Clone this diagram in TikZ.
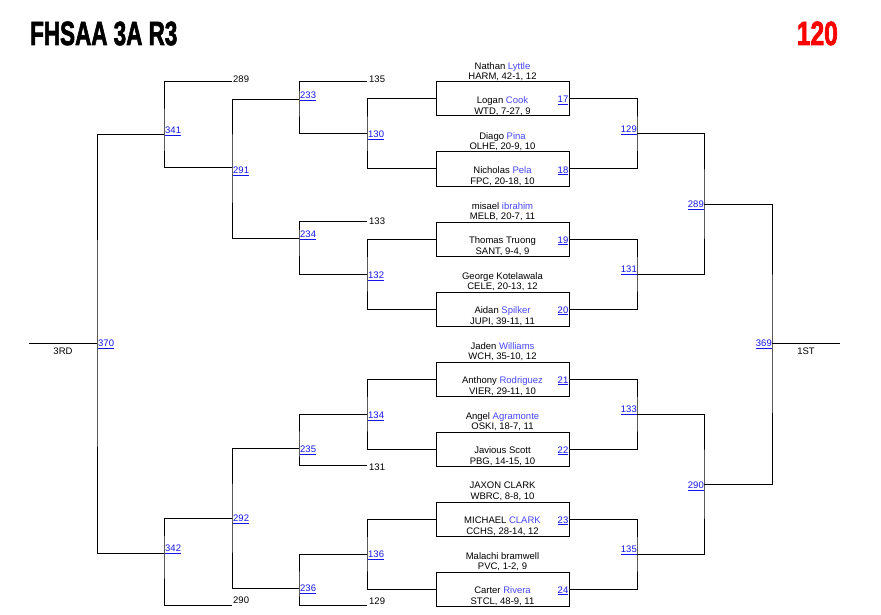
\documentclass[tikz,border=0pt]{standalone}
\usepackage{fontspec}
\setmainfont{Liberation Sans}
\newfontfamily\headfont{Liberation Sans}[BoldFeatures={FakeBold=2.5}]
\usetikzlibrary{positioning}

\definecolor{linkblue}{RGB}{20,20,235}
\definecolor{nameblue}{RGB}{70,70,255}
\definecolor{headred}{RGB}{255,0,0}
\newcommand{\sur}[1]{\textcolor{nameblue}{#1}}
\newcommand{\bout}[1]{\underline{#1}}

\begin{document}
\begin{tikzpicture}[x=1pt,y=-1pt,
  font=\fontsize{9.5}{10.5}\selectfont,
  wire/.style={line width=1pt},
  boxnode/.style={draw,line width=1pt,minimum width=133pt,minimum height=34pt,inner sep=0pt},
  entry/.style={align=center,inner sep=0pt},
  boutl/.style={text=linkblue,inner sep=0pt,anchor=base west},
  boutr/.style={text=linkblue,inner sep=0pt,anchor=base east},
  tag/.style={inner sep=0pt,anchor=base west},
  place/.style={inner sep=0pt,anchor=base}]
  \useasboundingbox (0,0) rectangle (881,615);

  \node[anchor=base west,inner sep=0pt] (title) at (30,45)
    {\scalebox{0.67}[1]{\headfont\bfseries\fontsize{33.5}{36}\selectfont FHSAA 3A R3}};
  \node[anchor=base east,inner sep=0pt,text=headred] (weight) at (838,45)
    {\scalebox{0.73}[1]{\headfont\bfseries\fontsize{33.5}{36}\selectfont 120}};

  \node[boxnode] (box1) at (502.5,99) {};
  \node[boxnode] (box2) at (502.5,169) {};
  \node[boxnode] (box3) at (502.5,239) {};
  \node[boxnode] (box4) at (502.5,309) {};
  \node[boxnode] (box5) at (502.5,379) {};
  \node[boxnode] (box6) at (502.5,449) {};
  \node[boxnode] (box7) at (502.5,519) {};
  \node[boxnode] (box8) at (502.5,589) {};

  \node[entry] (top1) at (502.5,71.5) {Nathan \sur{Lyttle}\\HARM, 42-1, 12};
  \node[entry] (in1) at (502.5,106.3) {Logan \sur{Cook}\\WTD, 7-27, 9};
  \node[entry] (top2) at (502.5,141.5) {Diago \sur{Pina}\\OLHE, 20-9, 10};
  \node[entry] (in2) at (502.5,176.3) {Nicholas \sur{Pela}\\FPC, 20-18, 10};
  \node[entry] (top3) at (502.5,211.5) {misael \sur{ibrahim}\\MELB, 20-7, 11};
  \node[entry] (in3) at (502.5,246.3) {Thomas Truong\\SANT, 9-4, 9};
  \node[entry] (top4) at (502.5,281.5) {George Kotelawala\\CELE, 20-13, 12};
  \node[entry] (in4) at (502.5,316.3) {Aidan \sur{Spilker}\\JUPI, 39-11, 11};
  \node[entry] (top5) at (502.5,351.5) {Jaden \sur{Williams}\\WCH, 35-10, 12};
  \node[entry] (in5) at (502.5,386.3) {Anthony \sur{Rodriguez}\\VIER, 29-11, 10};
  \node[entry] (top6) at (502.5,421.5) {Angel \sur{Agramonte}\\OSKI, 18-7, 11};
  \node[entry] (in6) at (502.5,456.3) {Javious Scott\\PBG, 14-15, 10};
  \node[entry] (top7) at (502.5,491.5) {JAXON CLARK\\WBRC, 8-8, 10};
  \node[entry] (in7) at (502.5,526.3) {MICHAEL \sur{CLARK}\\CCHS, 28-14, 12};
  \node[entry] (top8) at (502.5,561.5) {Malachi bramwell\\PVC, 1-2, 9};
  \node[entry] (in8) at (502.5,596.3) {Carter \sur{Rivera}\\STCL, 48-9, 11};

  \node[boutr] (m17) at ([xshift=-1pt,yshift=-4pt]box1.east) {\bout{17}};
  \node[boutr] (m18) at ([xshift=-1pt,yshift=-4pt]box2.east) {\bout{18}};
  \node[boutr] (m19) at ([xshift=-1pt,yshift=-4pt]box3.east) {\bout{19}};
  \node[boutr] (m20) at ([xshift=-1pt,yshift=-4pt]box4.east) {\bout{20}};
  \node[boutr] (m21) at ([xshift=-1pt,yshift=-4pt]box5.east) {\bout{21}};
  \node[boutr] (m22) at ([xshift=-1pt,yshift=-4pt]box6.east) {\bout{22}};
  \node[boutr] (m23) at ([xshift=-1pt,yshift=-4pt]box7.east) {\bout{23}};
  \node[boutr] (m24) at ([xshift=-1pt,yshift=-4pt]box8.east) {\bout{24}};

  \coordinate (j130) at (367,134);
  \coordinate (j132) at (367,274);
  \coordinate (j134) at (367,414);
  \coordinate (j136) at (367,554);
  \coordinate (c135) at (367,82);
  \coordinate (c133) at (367,221);
  \coordinate (c131) at (367,465);
  \coordinate (c129) at (367,605);
  \coordinate (j233) at (299,100);
  \coordinate (j234) at (299,238);
  \coordinate (j235) at (299,448);
  \coordinate (j236) at (299,588);
  \coordinate (j291) at (232,168);
  \coordinate (j292) at (232,518);
  \coordinate (c289) at (232,82);
  \coordinate (c290) at (232,605);
  \coordinate (j341) at (164,135);
  \coordinate (j342) at (164,553);
  \coordinate (j370) at (97,343);
  \coordinate (c3rd) at (29,343);
  \coordinate (j129) at (637,134);
  \coordinate (j131) at (637,274);
  \coordinate (j133) at (637,414);
  \coordinate (j135) at (637,554);
  \coordinate (j289) at (704,204);
  \coordinate (j290) at (704,484);
  \coordinate (j369) at (772,343);
  \coordinate (c1st) at (840,343);

  \draw[wire] (box1.west) -| (j130) |- (box2.west);
  \draw[wire] (box3.west) -| (j132) |- (box4.west);
  \draw[wire] (box5.west) -| (j134) |- (box6.west);
  \draw[wire] (box7.west) -| (j136) |- (box8.west);
  \draw[wire] (c135) -| (j233) |- (j130);
  \draw[wire] (c133) -| (j234) |- (j132);
  \draw[wire] (j134) -| (j235) |- (c131);
  \draw[wire] (j136) -| (j236) |- (c129);
  \draw[wire] (j233) -| (j291) |- (j234);
  \draw[wire] (j235) -| (j292) |- (j236);
  \draw[wire] (c289) -| (j341) |- (j291);
  \draw[wire] (j292) -| (j342) |- (c290);
  \draw[wire] (j341) -| (j370) |- (j342);
  \draw[wire] (j370) -- (c3rd);

  \draw[wire] (box1.east) -| (j129) |- (box2.east);
  \draw[wire] (box3.east) -| (j131) |- (box4.east);
  \draw[wire] (box5.east) -| (j133) |- (box6.east);
  \draw[wire] (box7.east) -| (j135) |- (box8.east);
  \draw[wire] (j129) -| (j289) |- (j131);
  \draw[wire] (j133) -| (j290) |- (j135);
  \draw[wire] (j289) -| (j369) |- (j290);
  \draw[wire] (j369) -- (c1st);

  \node[boutl] (m130) at ([xshift=1pt,yshift=-4pt]j130) {\bout{130}};
  \node[boutl] (m132) at ([xshift=1pt,yshift=-4.5pt]j132) {\bout{132}};
  \node[boutl] (m134) at ([xshift=1pt,yshift=-4.5pt]j134) {\bout{134}};
  \node[boutl] (m136) at ([xshift=1pt,yshift=-3.5pt]j136) {\bout{136}};
  \node[boutl] (m233) at ([xshift=1pt,yshift=1.5pt]j233) {\bout{233}};
  \node[boutl] (m234) at ([xshift=1pt,yshift=0.5pt]j234) {\bout{234}};
  \node[boutl] (m235) at ([xshift=1pt,yshift=-4.5pt]j235) {\bout{235}};
  \node[boutl] (m236) at ([xshift=1pt,yshift=-3.5pt]j236) {\bout{236}};
  \node[boutl] (m291) at ([xshift=1pt,yshift=-5.5pt]j291) {\bout{291}};
  \node[boutl] (m292) at ([xshift=1pt,yshift=-3.5pt]j292) {\bout{292}};
  \node[boutl] (m341) at ([xshift=1pt,yshift=1.5pt]j341) {\bout{341}};
  \node[boutl] (m342) at ([xshift=1pt,yshift=1.5pt]j342) {\bout{342}};
  \node[boutl] (m370) at ([xshift=1pt,yshift=-3.5pt]j370) {\bout{370}};

  \node[boutr] (m129) at ([yshift=1.5pt]j129) {\bout{129}};
  \node[boutr] (m131) at ([yshift=1.5pt]j131) {\bout{131}};
  \node[boutr] (m133) at ([yshift=1.5pt]j133) {\bout{133}};
  \node[boutr] (m135) at ([yshift=1.5pt]j135) {\bout{135}};
  \node[boutr] (m289) at ([yshift=-3.5pt]j289) {\bout{289}};
  \node[boutr] (m290) at ([yshift=-4.5pt]j290) {\bout{290}};
  \node[boutr] (m369) at ([yshift=-3.5pt]j369) {\bout{369}};

  \node[tag] (t289) at ([xshift=1pt,yshift=-0.5pt]c289) {289};
  \node[tag] (t135) at ([xshift=2pt,yshift=-0.5pt]c135) {135};
  \node[tag] (t133) at ([xshift=2pt,yshift=-3.5pt]c133) {133};
  \node[tag] (t131) at ([xshift=2pt,yshift=-5pt]c131) {131};
  \node[tag] (t129) at ([xshift=2pt,yshift=1pt]c129) {129};
  \node[tag] (t290) at ([xshift=1pt,yshift=1.5pt]c290) {290};
  \node[place] (third) at (63,354.5) {3RD};
  \node[place] (first) at (806,354.5) {1ST};
\end{tikzpicture}
\end{document}
